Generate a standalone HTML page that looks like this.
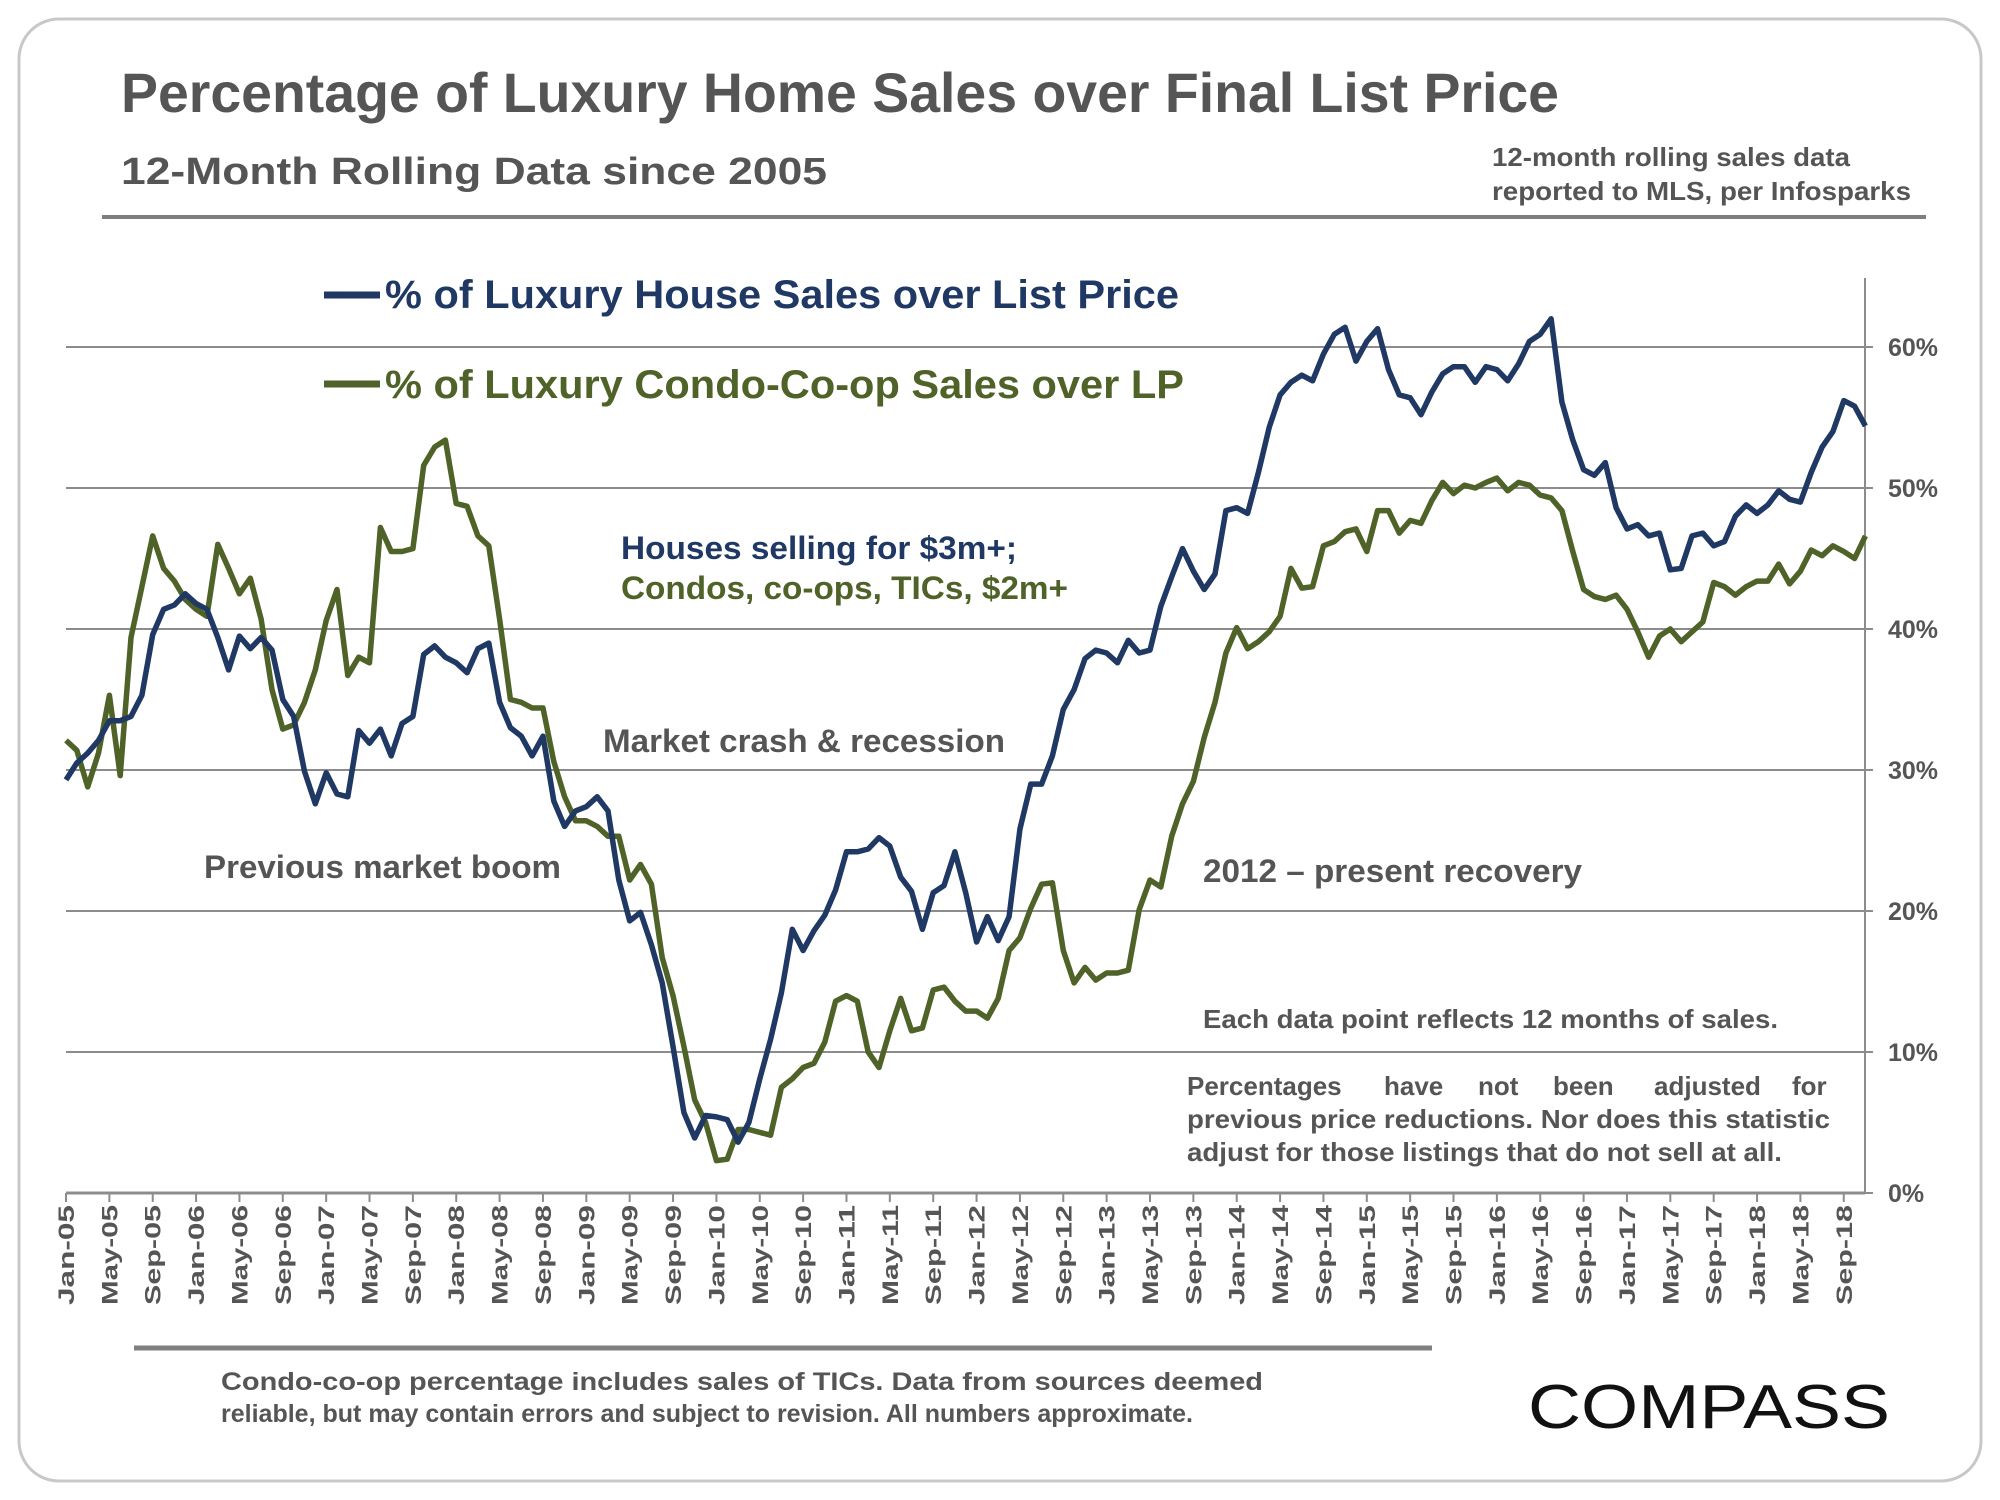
<!DOCTYPE html>
<html><head><meta charset="utf-8"><style>
html,body{margin:0;padding:0;background:#fff;}
svg{display:block;font-family:"Liberation Sans",Arial,sans-serif;}
</style></head><body>
<svg id="chart" width="2000" height="1500" viewBox="0 0 2000 1500">
<rect x="19" y="19" width="1962" height="1462" rx="40" fill="#fff" stroke="#c8c8c8" stroke-width="3"/>
<text x="121" y="112" font-size="56" font-weight="bold" fill="#555" textLength="1438" lengthAdjust="spacingAndGlyphs">Percentage of Luxury Home Sales over Final List Price</text>
<text x="121" y="184" font-size="38" font-weight="bold" fill="#555" textLength="706" lengthAdjust="spacingAndGlyphs">12-Month Rolling Data since 2005</text>
<text x="1492" y="166" font-size="26" font-weight="bold" fill="#555" textLength="358" lengthAdjust="spacingAndGlyphs">12-month rolling sales data</text>
<text x="1492" y="200" font-size="26" font-weight="bold" fill="#555" textLength="419" lengthAdjust="spacingAndGlyphs">reported to MLS, per Infosparks</text>
<line x1="102" y1="217" x2="1926" y2="217" stroke="#7f7f7f" stroke-width="4"/>
<g id="grid"></g>
<g id="xaxis"></g>
<g id="yaxis"></g>
<g id="series"></g>
<g>
<line x1="324" y1="295" x2="380" y2="295" stroke="#1f3864" stroke-width="7"/>
<text x="385" y="308" font-size="40" font-weight="bold" fill="#1f3864" textLength="794" lengthAdjust="spacingAndGlyphs">% of Luxury House Sales over List Price</text>
<line x1="324" y1="384" x2="380" y2="384" stroke="#4f6228" stroke-width="7"/>
<text x="385" y="398" font-size="40" font-weight="bold" fill="#4f6228" textLength="799" lengthAdjust="spacingAndGlyphs">% of Luxury Condo-Co-op Sales over LP</text>
</g>
<text x="621" y="559" font-size="32" font-weight="bold" fill="#1f3864" textLength="396" lengthAdjust="spacingAndGlyphs">Houses selling for $3m+;</text>
<text x="621" y="599" font-size="32" font-weight="bold" fill="#4f6228" textLength="447" lengthAdjust="spacingAndGlyphs">Condos, co-ops, TICs, $2m+</text>
<text x="603" y="752" font-size="32" font-weight="bold" fill="#555" textLength="402" lengthAdjust="spacingAndGlyphs">Market crash &amp; recession</text>
<text x="204" y="878" font-size="32" font-weight="bold" fill="#555" textLength="357" lengthAdjust="spacingAndGlyphs">Previous market boom</text>
<text x="1203" y="882" font-size="32" font-weight="bold" fill="#555" textLength="379" lengthAdjust="spacingAndGlyphs">2012 – present recovery</text>
<text x="1203" y="1028" font-size="26" font-weight="bold" fill="#555" textLength="575" lengthAdjust="spacingAndGlyphs">Each data point reflects 12 months of sales.</text>
<g>
<text y="1095" font-size="26" font-weight="bold" fill="#555"><tspan x="1187">Percentages</tspan><tspan x="1384">have</tspan><tspan x="1478">not</tspan><tspan x="1553">been</tspan><tspan x="1654">adjusted</tspan><tspan x="1792">for</tspan></text>
<text x="1187" y="1128" font-size="26" font-weight="bold" fill="#555" textLength="643" lengthAdjust="spacingAndGlyphs">previous price reductions. Nor does this statistic</text>
<text x="1187" y="1161" font-size="26" font-weight="bold" fill="#555" textLength="595" lengthAdjust="spacingAndGlyphs">adjust for those listings that do not sell at all.</text>
</g>
<line x1="134" y1="1348" x2="1432" y2="1348" stroke="#7f7f7f" stroke-width="5"/>
<text x="221" y="1390" font-size="25" font-weight="bold" fill="#555" textLength="1042" lengthAdjust="spacingAndGlyphs">Condo-co-op  percentage  includes  sales  of  TICs.  Data  from  sources  deemed</text>
<text x="221" y="1422" font-size="25" font-weight="bold" fill="#555" textLength="972" lengthAdjust="spacingAndGlyphs">reliable, but may contain errors and subject to revision. All numbers approximate.</text>
<text x="1528" y="1428" font-size="62" fill="#111" textLength="362" lengthAdjust="spacingAndGlyphs">COMPASS</text>
</svg>
<script>
const houseValues = [
29.3,30.5,31.2,32.1,33.5,33.5,33.8,35.3,39.6,41.4,41.7,42.5,
41.8,41.4,39.4,37.1,39.5,38.6,39.4,38.5,35.0,33.8,29.9,27.6,
29.8,28.3,28.1,32.8,31.9,32.9,31.0,33.3,33.8,38.2,38.8,38.0,
37.6,36.9,38.6,39.0,34.8,33.0,32.4,31.0,32.4,27.8,26.0,27.1,
27.4,28.1,27.1,22.2,19.3,19.9,17.6,14.9,10.4,5.7,3.9,5.5,
5.4,5.2,3.6,5.0,8.1,10.9,14.2,18.7,17.2,18.6,19.7,21.5,
24.2,24.2,24.4,25.2,24.6,22.4,21.4,18.7,21.3,21.8,24.2,21.3,
17.8,19.6,17.9,19.6,25.8,29.0,29.0,31.0,34.3,35.7,37.9,38.5,
38.3,37.6,39.2,38.3,38.5,41.6,43.7,45.7,44.1,42.8,43.9,48.4,
48.6,48.2,51.1,54.3,56.6,57.5,58.0,57.6,59.5,60.9,61.4,59.0,
60.4,61.3,58.4,56.6,56.4,55.2,56.8,58.1,58.6,58.6,57.5,58.6,
58.4,57.6,58.8,60.4,60.9,62.0,56.1,53.4,51.3,50.9,51.8,48.6,
47.1,47.4,46.6,46.8,44.2,44.3,46.6,46.8,45.9,46.2,48.0,48.8,
48.2,48.8,49.8,49.2,49.0,51.1,52.9,54.0,56.2,55.8,54.4];
const condoValues = [
32.1,31.4,28.8,31.2,35.3,29.6,39.4,43.0,46.6,44.3,43.4,42.1,
41.4,40.9,46.0,44.3,42.5,43.6,40.7,35.7,32.9,33.2,34.8,37.1,
40.6,42.8,36.7,38.0,37.6,47.2,45.5,45.5,45.7,51.6,52.9,53.4,
48.9,48.7,46.6,45.9,40.7,35.0,34.8,34.4,34.4,30.6,28.1,26.4,
26.4,26.0,25.3,25.3,22.2,23.3,21.9,16.7,14.0,10.4,6.6,5.0,
2.3,2.4,4.5,4.5,4.3,4.1,7.5,8.1,8.9,9.2,10.7,13.6,
14.0,13.6,10.0,8.9,11.5,13.8,11.5,11.7,14.4,14.6,13.6,12.9,
12.9,12.4,13.8,17.2,18.1,20.2,21.9,22.0,17.2,14.9,16.0,15.1,
15.6,15.6,15.8,20.1,22.2,21.7,25.3,27.6,29.2,32.3,34.8,38.3,
40.1,38.6,39.1,39.8,40.9,44.3,42.9,43.0,45.9,46.2,46.9,47.1,
45.5,48.4,48.4,46.8,47.7,47.5,49.1,50.4,49.6,50.2,50.0,50.4,
50.7,49.8,50.4,50.2,49.5,49.3,48.4,45.5,42.8,42.3,42.1,42.4,
41.4,39.8,38.0,39.5,40.0,39.1,39.8,40.5,43.3,43.0,42.4,43.0,
43.4,43.4,44.6,43.2,44.1,45.6,45.2,45.9,45.5,45.0,46.6];
const yTicks = [0,10,20,30,40,50,60];
const yTickLabels = ["0%","10%","20%","30%","40%","50%","60%"];
const monthNames = ["Jan","Feb","Mar","Apr","May","Jun","Jul","Aug","Sep","Oct","Nov","Dec"];
const startYear = 2005;

const NS="http://www.w3.org/2000/svg";
const X0=66, DX=10.84, Y0=1193, PPP=14.1, XR=1865;
function xScale(i){return X0+i*DX;}
function yScale(v){return Y0-v*PPP;}
function mk(tag,attrs,parent){const e=document.createElementNS(NS,tag);for(const k in attrs)e.setAttribute(k,attrs[k]);parent.appendChild(e);return e;}
const grid=document.getElementById('grid'),xa=document.getElementById('xaxis'),ya=document.getElementById('yaxis'),ser=document.getElementById('series');
yTicks.forEach((t,i)=>{
  const y=yScale(t);
  if(t>0){const g=mk('line',{x1:X0,y1:y,x2:XR,y2:y,stroke:'#8c8c8c','stroke-width':2},grid);
  
  }
  const tk=mk('line',{x1:XR,y1:y,x2:XR+8,y2:y,stroke:'#8c8c8c','stroke-width':2},ya);
  
  
  const tx=mk('text',{x:1888,y:y+9,'font-size':25,'font-weight':'bold',fill:'#555'},ya);
  tx.textContent=yTickLabels[i];
  
  
});
const ax=mk('line',{x1:X0,y1:Y0,x2:XR,y2:Y0,stroke:'#8c8c8c','stroke-width':3},xa);


const rv=mk('line',{x1:XR,y1:278,x2:XR,y2:Y0,stroke:'#8c8c8c','stroke-width':2},ya);


for(let i=0;i<houseValues.length;i+=4){
  const x=xScale(i);
  const t=mk('line',{x1:x,y1:Y0,x2:x,y2:Y0+9,stroke:'#8c8c8c','stroke-width':2},xa);
  
  
  const yr=startYear+Math.floor(i/12), m=i%12;
  const lab=monthNames[m]+'-'+String(yr%100).padStart(2,'0');
  const tx=mk('text',{x:0,y:0,transform:`translate(${x+8},${Y0+12}) rotate(-90)`,'text-anchor':'end','font-size':22,'font-weight':'bold',fill:'#555',textLength:100,lengthAdjust:'spacingAndGlyphs'},xa);
  tx.textContent=lab;
  
  
}
function path(vals){return vals.map((v,i)=>(i?'L':'M')+xScale(i).toFixed(1)+' '+yScale(v).toFixed(1)).join(' ');}
const pc=mk('path',{d:path(condoValues),fill:'none',stroke:'#4f6228','stroke-width':5.5,'stroke-linejoin':'round'},ser);


const ph=mk('path',{d:path(houseValues),fill:'none',stroke:'#1f3864','stroke-width':5.5,'stroke-linejoin':'round'},ser);


</script>
</body></html>
